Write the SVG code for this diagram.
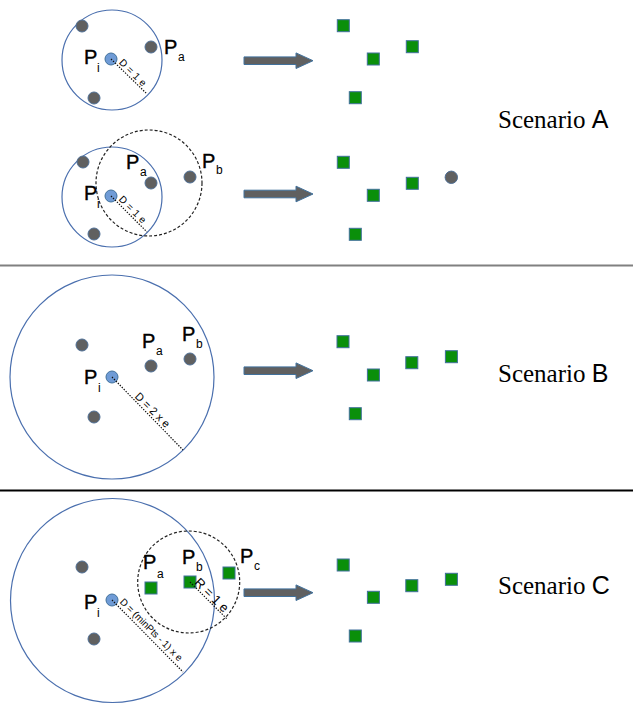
<svg xmlns="http://www.w3.org/2000/svg" xmlns:xlink="http://www.w3.org/1999/xlink" width="633" height="708" viewBox="0 0 633 708">
<style>
.range{fill:none;stroke:#4a6fae;stroke-width:1.2}
.dash{fill:none;stroke:#222;stroke-width:1.2;stroke-dasharray:3 2}
.dot{fill:#606060;stroke:#4f6f95;stroke-width:1}
.pi{fill:#6f9bd6;stroke:#41719c;stroke-width:1}
.sq{fill:#0a8f0a;stroke:#41719c;stroke-width:1}
.rad{stroke:#111;stroke-width:1.2;stroke-dasharray:1.4 1.4;fill:none}
.arr{fill:#606060;stroke:#41719c;stroke-width:1}
.lbl{font-family:"Liberation Sans",Arial,sans-serif;font-size:20px;fill:#000;stroke:#000;stroke-width:0.4}
.sub{font-family:"Liberation Sans",Arial,sans-serif;font-size:12px;fill:#000}
.dim{font-family:"Liberation Sans",Arial,sans-serif;font-size:10px;fill:#000}
.scn{font-family:"Liberation Serif","Times New Roman",serif;font-size:25px;fill:#000}
.scl{font-family:"Liberation Sans",Arial,sans-serif}
</style>
<defs>
<polygon id="arrow" class="arr" points="244,-3.8 296,-3.8 296,-7.8 313,0 296,7.8 296,3.8 244,3.8"/>
</defs>

<!-- separators -->
<line x1="0" y1="265.5" x2="633" y2="265.5" stroke="#808080" stroke-width="2"/>
<line x1="0" y1="490.5" x2="633" y2="490.5" stroke="#000" stroke-width="1.8"/>

<!-- Scenario A, row 1 -->
<g id="a1-range"><circle class="range" cx="112" cy="60" r="50"/></g>
<g id="a1-points">
<circle class="dot" cx="82" cy="26" r="6"/>
<circle class="dot" cx="151" cy="47" r="6"/>
<circle class="dot" cx="94" cy="98" r="6"/>
</g>
<g id="a1-pi"><circle class="pi" cx="111" cy="59" r="6"/>
<text class="lbl" x="84" y="64">P</text><text class="sub" x="97" y="72">i</text></g>
<g id="a1-pa"><text class="lbl" x="164" y="54">P</text><text class="sub" x="178" y="61">a</text></g>
<g id="a1-result">
<rect class="sq" x="337.3" y="19.7" width="12" height="12"/>
<rect class="sq" x="367.3" y="53" width="12" height="12"/>
<rect class="sq" x="406.3" y="40.7" width="12" height="12"/>
<rect class="sq" x="349.3" y="91.7" width="12" height="12"/>
</g>

<!-- Scenario A, row 2 -->
<g id="a2-range"><circle class="range" cx="112" cy="197" r="50"/><circle class="dash" cx="149" cy="183" r="53"/></g>
<g id="a2-points">
<circle class="dot" cx="83" cy="162" r="6"/>
<circle class="dot" cx="151" cy="183" r="6"/>
<circle class="dot" cx="190" cy="177" r="6"/>
<circle class="dot" cx="94" cy="234" r="6"/>
</g>
<g id="a2-pi"><circle class="pi" cx="111" cy="196" r="6"/>
<text class="lbl" x="84" y="200">P</text><text class="sub" x="97" y="208">i</text></g>
<g id="a2-pa"><text class="lbl" x="126" y="169">P</text><text class="sub" x="140" y="176">a</text></g>
<g id="a2-pb"><text class="lbl" x="202" y="168">P</text><text class="sub" x="216" y="174">b</text></g>
<g id="a2-result">
<rect class="sq" x="337.3" y="156.3" width="12" height="12"/>
<rect class="sq" x="367.3" y="189.3" width="12" height="12"/>
<rect class="sq" x="406.3" y="177.3" width="12" height="12"/>
<rect class="sq" x="349.3" y="228.3" width="12" height="12"/>
<circle class="dot" cx="451.3" cy="177.3" r="6.2"/>
</g>
<g id="label-a"><text class="scn" x="498" y="128">Scenario <tspan class="scl">A</tspan></text></g>

<!-- Scenario B -->
<g id="b-range"><circle class="range" cx="112" cy="377" r="102"/></g>
<g id="b-points">
<circle class="dot" cx="82" cy="345" r="6"/>
<circle class="dot" cx="151" cy="366" r="6"/>
<circle class="dot" cx="190" cy="359" r="6"/>
<circle class="dot" cx="94" cy="417" r="6"/>
</g>
<g id="b-pi"><circle class="pi" cx="112" cy="377" r="6"/>
<text class="lbl" x="84" y="384">P</text><text class="sub" x="98" y="392">i</text></g>
<g id="b-pa"><text class="lbl" x="142" y="348">P</text><text class="sub" x="156" y="355">a</text></g>
<g id="b-pb"><text class="lbl" x="182" y="341">P</text><text class="sub" x="196" y="348">b</text></g>
<g id="b-result">
<rect class="sq" x="337" y="335.7" width="12" height="12"/>
<rect class="sq" x="367.4" y="369" width="12" height="12"/>
<rect class="sq" x="405.8" y="356.7" width="12" height="12"/>
<rect class="sq" x="445.4" y="350.7" width="12" height="12"/>
<rect class="sq" x="349.3" y="407.7" width="12" height="12"/>
</g>
<g id="label-b"><text class="scn" x="498" y="382">Scenario <tspan class="scl">B</tspan></text></g>

<!-- Scenario C -->
<g id="c-range"><circle class="range" cx="112.5" cy="600.5" r="102"/><circle class="dash" cx="188.7" cy="582" r="51"/></g>
<g id="c-points">
<circle class="dot" cx="82" cy="567" r="6"/>
<circle class="dot" cx="94" cy="639" r="6"/>
</g>
<g id="c-pi"><circle class="pi" cx="112" cy="600" r="6"/>
<text class="lbl" x="84" y="609">P</text><text class="sub" x="97" y="617">i</text></g>
<g id="c-pa"><rect class="sq" x="145" y="582" width="12" height="12"/>
<text class="lbl" x="143" y="569">P</text><text class="sub" x="157" y="578">a</text></g>
<g id="c-pb"><rect class="sq" x="184" y="576" width="12" height="12"/>
<text class="lbl" x="182" y="564">P</text><text class="sub" x="196" y="571">b</text></g>
<g id="c-pc"><rect class="sq" x="223" y="567" width="12" height="12"/>
<text class="lbl" x="240" y="563">P</text><text class="sub" x="254" y="570">c</text></g>
<g id="c-result">
<rect class="sq" x="337.2" y="559" width="12" height="12"/>
<rect class="sq" x="367.4" y="591.3" width="12" height="12"/>
<rect class="sq" x="405.8" y="579.7" width="12" height="12"/>
<rect class="sq" x="445.4" y="573.3" width="12" height="12"/>
<rect class="sq" x="349.3" y="630" width="12" height="12"/>
</g>
<g id="label-c"><text class="scn" x="498" y="594">Scenario <tspan class="scl">C</tspan></text></g>

<!-- connectors: radius lines and arrows -->
<g id="connectors">
<line class="rad" x1="111" y1="59" x2="147" y2="94"/>
<text class="dim" textLength="34" transform="translate(118.4,62.9) rotate(45)">D = 1 e</text>
<line class="rad" x1="111" y1="196" x2="147" y2="232"/>
<text class="dim" textLength="34" transform="translate(118.2,199.8) rotate(45)">D = 1 e</text>
<line class="rad" x1="112" y1="377" x2="183" y2="450"/>
<text class="dim" style="font-size:11px" transform="translate(134.3,397.1) rotate(45)">D = 2 x e</text>
<line class="rad" x1="112" y1="600" x2="183" y2="672"/>
<text class="dim" textLength="84" lengthAdjust="spacingAndGlyphs" style="font-size:10px" transform="translate(119.2,602.4) rotate(45)">D = (minPts - 1) x e</text>
<line class="rad" x1="190" y1="582" x2="227" y2="619"/>
<text class="dim" style="font-size:13px" transform="translate(193.7,583.3) rotate(45)">R = 1 e</text>
<use xlink:href="#arrow" x="0" y="60.7"/>
<use xlink:href="#arrow" x="0" y="194"/>
<use xlink:href="#arrow" x="0" y="370.7"/>
<use xlink:href="#arrow" x="0" y="592.7"/>
</g>
</svg>
